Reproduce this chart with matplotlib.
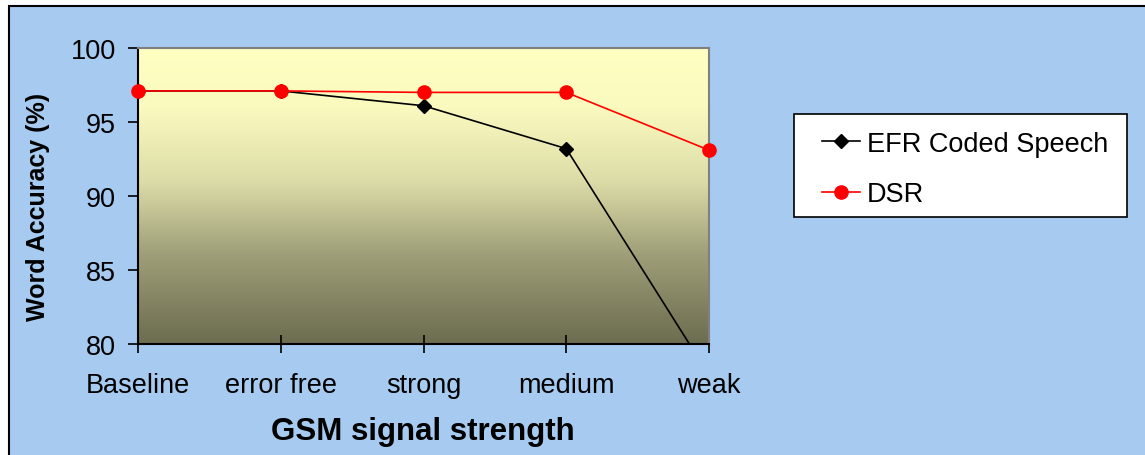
import numpy as np
import matplotlib
matplotlib.use("Agg")
import matplotlib.pyplot as plt
from matplotlib.colors import LinearSegmentedColormap
from matplotlib.patches import Rectangle

# word accuracy per GSM signal condition
categories = ["Baseline", "error free", "strong", "medium", "weak"]
efr = [97.1, 97.1, 96.1, 93.2, 77.9]
dsr = [97.1, 97.1, 97.0, 97.0, 93.1]
yticks = [80, 85, 90, 95, 100]

plt.rcParams['font.family'] = ['Liberation Sans', 'DejaVu Sans']

fig = plt.figure(figsize=(11.45, 4.56), dpi=100, facecolor='white')

# blue chart area with black frame
fig.add_artist(Rectangle((9 / 1145, -0.1), 1.2, (456 - 7) / 456 + 0.1,
                         transform=fig.transFigure, facecolor='#A6CAF0',
                         edgecolor='black', linewidth=1.5, zorder=0))
# legend box, entries placed inside it by ax.legend below
fig.add_artist(Rectangle((794 / 1145, 1 - 218 / 456), 333 / 1145, 103 / 456,
                         transform=fig.transFigure, facecolor='white',
                         edgecolor='black', linewidth=1.2, zorder=0.5))

ax = fig.add_axes([138 / 1145, 1 - 345 / 456, 571 / 1145, 296 / 456])
ax.set_facecolor('none')
ax.set_zorder(1)

# yellow -> olive fill of the plot area
cmap = LinearSegmentedColormap.from_list(
    'fill', [(0.0, '#FFFFC2'), (0.2, '#FAFABF'), (0.45, '#DCDCA8'),
             (0.7, '#9E9E78'), (1.0, '#6C6C50')])
grad = np.linspace(0, 1, 256).reshape(-1, 1)
ax.imshow(grad, cmap=cmap, aspect='auto', extent=[0, 4, 80, 100],
          origin='upper', zorder=0)

x = np.arange(len(categories))
ax.plot(x, efr, color='black', lw=1.2, marker='D', ms=7,
        label='EFR Coded Speech', zorder=3)
ax.plot(x, dsr, color='#FF0000', lw=1.2, marker='o', ms=9.5,
        label='DSR', zorder=4, clip_on=False)

ax.set_xlim(0, 4)
ax.set_ylim(80, 100)
ax.set_xticks(x)
ax.set_xticklabels(categories)
ax.set_yticks(yticks)
ax.tick_params(axis='y', direction='out', length=7, width=1.2, pad=9,
               labelsize=19.5)
ax.tick_params(axis='x', direction='inout', length=13, width=1.2, pad=14,
               labelsize=19.5)

for s in ['top', 'right']:
    ax.spines[s].set_color('#808080')
    ax.spines[s].set_linewidth(1.5)
for s in ['left', 'bottom']:
    ax.spines[s].set_color('black')
    ax.spines[s].set_linewidth(1.5)

fig.text(423 / 1145, 1 - 432 / 456, 'GSM signal strength', ha='center',
         va='center', fontsize=22.5, fontweight='bold')
fig.text(38 / 1145, 1 - 207 / 456, 'Word Accuracy (%)', ha='center',
         va='center', rotation=90, fontsize=18, fontweight='bold')

ax.legend(loc='center left',
          bbox_to_anchor=(822 / 1145, 1 - 170 / 456),
          bbox_transform=fig.transFigure,
          fontsize=19.5, frameon=False, handlelength=1.4,
          handletextpad=0.26, borderpad=0, labelspacing=0.9,
          borderaxespad=0)

fig.savefig('out.png', dpi=100, facecolor='white')
